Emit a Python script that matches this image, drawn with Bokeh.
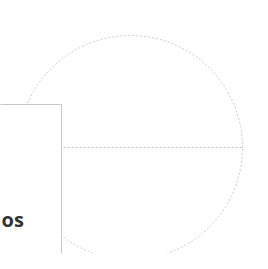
import numpy as np
from bokeh.plotting import figure
from bokeh.models import Range1d, ColumnDataSource
from bokeh.core.properties import value
from bokeh.embed import file_html
from bokeh.resources import INLINE

# data
categories = ["Ingresos", "Gastos"]
values = [50, 50]
tooltip_label = ["os"]

vals = np.array(values, dtype=float)
ends = np.cumsum(vals) / vals.sum() * 2 * np.pi
starts = np.concatenate([[0.0], ends[:-1]])

src = ColumnDataSource(dict(cat=categories, start=starts, end=ends))

p = figure(width=252, height=253, output_backend="svg", toolbar_location=None,
           x_range=Range1d(8, 260), y_range=Range1d(261, 8), min_border=0)
p.axis.visible = False
p.grid.visible = False
p.outline_line_color = None
p.background_fill_color = "white"

p.wedge(x=138, y=155, radius=112, start_angle="start", end_angle="end",
        direction="anticlock", source=src, fill_color="white",
        line_color="#c8c8c8", line_dash="2 2", line_width=1)

# tooltip box
p.quad(left=[-30], right=[69], top=[112], bottom=[262], fill_color="white",
       fill_alpha=0.92, line_color="#c8c8c8", line_width=1)
p.text(x=[9], y=[227], text=tooltip_label, text_align="left",
       text_baseline="middle", text_font=value("Open Sans"),
       text_font_style="bold", text_font_size="20px", text_color="#333333")

open("out.html", "w").write(file_html(p, INLINE))
